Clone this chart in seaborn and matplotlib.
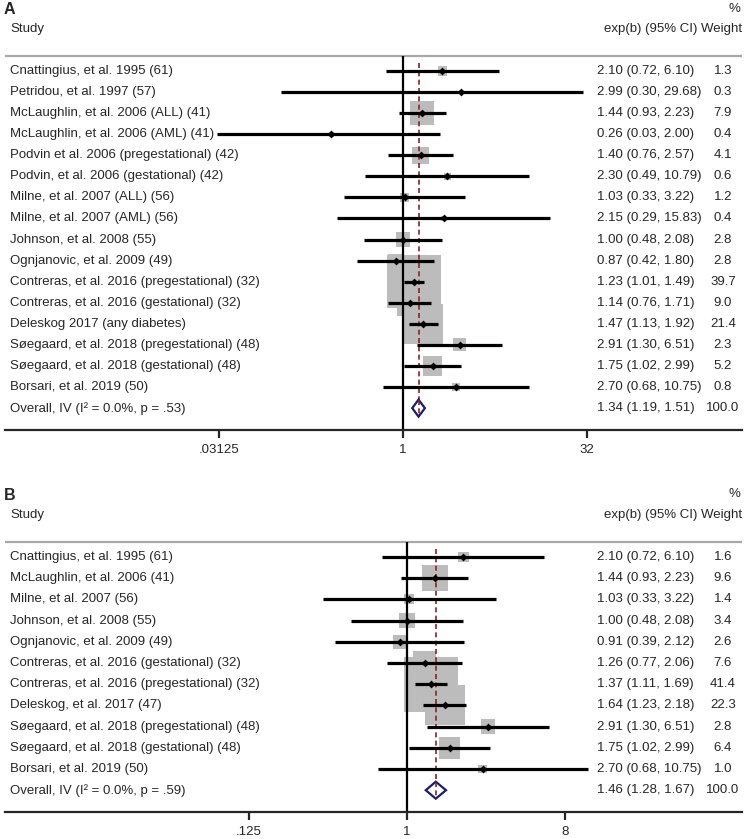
import numpy as np
import pandas as pd
import matplotlib
matplotlib.use("Agg")
import matplotlib.pyplot as plt
import matplotlib.transforms as mtransforms
from matplotlib.patches import Polygon
import seaborn as sns

# Panel A data
estudos_a = ["Cnattingius, et al. 1995 (61)", "Petridou, et al. 1997 (57)",
             "McLaughlin, et al. 2006 (ALL) (41)", "McLaughlin, et al. 2006 (AML) (41)",
             "Podvin et al. 2006 (pregestational) (42)", "Podvin, et al. 2006 (gestational) (42)",
             "Milne, et al. 2007 (ALL) (56)", "Milne, et al. 2007 (AML) (56)",
             "Johnson, et al. 2008 (55)", "Ognjanovic, et al. 2009 (49)",
             "Contreras, et al. 2016 (pregestational) (32)", "Contreras, et al. 2016 (gestational) (32)",
             "Deleskog 2017 (any diabetes)", "Søegaard, et al. 2018 (pregestational) (48)",
             "Søegaard, et al. 2018 (gestational) (48)", "Borsari, et al. 2019 (50)"]
est_a = [2.10, 2.99, 1.44, 0.26, 1.40, 2.30, 1.03, 2.15, 1.00, 0.87, 1.23, 1.14, 1.47, 2.91, 1.75, 2.70]
# limite inferior como impresso na coluna de texto
inf_a = [0.72, 0.30, 0.93, 0.03, 0.76, 0.49, 0.33, 0.29, 0.48, 0.42, 1.01, 0.76, 1.13, 1.30, 1.02, 0.68]
# limite inferior como desenhado (Petridou aparece mais longo na figura)
inf_a_linha = [0.72, 0.10, 0.93, 0.03, 0.76, 0.49, 0.33, 0.29, 0.48, 0.42, 1.01, 0.76, 1.13, 1.30, 1.02, 0.68]
sup_a = [6.10, 29.68, 2.23, 2.00, 2.57, 10.79, 3.22, 15.83, 2.08, 1.80, 1.49, 1.71, 1.92, 6.51, 2.99, 10.75]
peso_a = [1.3, 0.3, 7.9, 0.4, 4.1, 0.6, 1.2, 0.4, 2.8, 2.8, 39.7, 9.0, 21.4, 2.3, 5.2, 0.8]
geral_a = (1.34, 1.19, 1.51, "Overall, IV (I² = 0.0%, p = .53)")
ticks_a = [0.03125, 1, 32]
ticklab_a = [".03125", "1", "32"]

# Panel B data
estudos_b = ["Cnattingius, et al. 1995 (61)", "McLaughlin, et al. 2006 (41)",
             "Milne, et al. 2007 (56)", "Johnson, et al. 2008 (55)",
             "Ognjanovic, et al. 2009 (49)", "Contreras, et al. 2016 (gestational) (32)",
             "Contreras, et al. 2016 (pregestational) (32)", "Deleskog, et al. 2017 (47)",
             "Søegaard, et al. 2018 (pregestational) (48)", "Søegaard, et al. 2018 (gestational) (48)",
             "Borsari, et al. 2019 (50)"]
est_b = [2.10, 1.44, 1.03, 1.00, 0.91, 1.26, 1.37, 1.64, 2.91, 1.75, 2.70]
inf_b = [0.72, 0.93, 0.33, 0.48, 0.39, 0.77, 1.11, 1.23, 1.30, 1.02, 0.68]
sup_b = [6.10, 2.23, 3.22, 2.08, 2.12, 2.06, 1.69, 2.18, 6.51, 2.99, 10.75]
peso_b = [1.6, 9.6, 1.4, 3.4, 2.6, 7.6, 41.4, 22.3, 2.8, 6.4, 1.0]
geral_b = (1.46, 1.28, 1.67, "Overall, IV (I² = 0.0%, p = .59)")
ticks_b = [0.125, 1, 8]
ticklab_b = [".125", "1", "8"]

sns.set_style("white")
plt.rcParams["font.family"] = ["Liberation Sans", "DejaVu Sans"]

W, H = 750, 839
fig = plt.figure(figsize=(W / 100, H / 100), dpi=100)

CINZA = "#bcbcbc"
AZUL = "#1c1c6e"
VERMELHO = "#8b2323"
FS = 9.5


def painel(top_px, bot_px, y0, passo, um_px, px_unid, letra,
           estudos, est, inf, inf_linha, sup, peso, geral, ticks, ticklab):
    left, right = 5, 742
    ax = fig.add_axes([left / W, 1 - bot_px / H, (right - left) / W, (bot_px - top_px) / H])
    ax.set_xlim(-(um_px - left) / px_unid, (right - um_px) / px_unid)
    ax.set_ylim((bot_px - y0) / passo, (top_px - y0) / passo)

    n = len(estudos)
    df = pd.DataFrame({"estudo": estudos, "est": est, "inf": inf, "inf_linha": inf_linha,
                       "sup": sup, "peso": peso})
    df["linha"] = np.arange(n)
    df["x"] = np.log2(df["est"])
    df["lado"] = (8.5 * np.sqrt(df["peso"]) * 0.72) ** 2

    # caixas de peso
    sns.scatterplot(data=df, x="x", y="linha", size="lado", sizes=(df["lado"].min(), df["lado"].max()),
                    marker="s", color=CINZA, linewidth=0, legend=False, ax=ax, zorder=1)

    # linhas de referencia
    ax.vlines(0, -0.71, (bot_px - y0) / passo, color="black", lw=1.6, zorder=2)
    gx = np.log2(geral[0])
    ax.vlines(gx, -0.4, n + 0.4, color=VERMELHO, lw=1.2, linestyles=(0, (3, 2)), zorder=2)

    # intervalos de confianca
    ax.hlines(df["linha"], np.log2(df["inf_linha"]), np.log2(df["sup"]), color="black", lw=2.3, zorder=3)
    sns.scatterplot(data=df, x="x", y="linha", marker="D", color="black", s=16,
                    linewidth=0, legend=False, ax=ax, zorder=4)

    # diamante geral
    h = 8.5 / passo
    dia = Polygon([[np.log2(geral[1]), n], [gx, n - h], [np.log2(geral[2]), n], [gx, n + h]],
                  closed=True, facecolor="white", edgecolor=AZUL, lw=1.6, zorder=5)
    ax.add_patch(dia)
    ax.vlines(gx, n - h, n + h, color=VERMELHO, lw=1.2, linestyles=(0, (3, 2)), zorder=6)

    # linha do cabecalho
    ax.axhline(-0.71, color="#a8a8a8", lw=1.6, zorder=1)

    # eixo
    for s in ["top", "left", "right"]:
        ax.spines[s].set_visible(False)
    ax.spines["bottom"].set_linewidth(1.6)
    ax.set_xticks(np.log2(ticks))
    ax.set_xticklabels(ticklab, fontsize=FS)
    ax.tick_params(axis="x", direction="out", length=6, width=1.6, pad=4, bottom=True)
    ax.set_yticks([])
    ax.set_xlabel("")
    ax.set_ylabel("")

    tr = mtransforms.blended_transform_factory(fig.transFigure, ax.transData)
    for i, row in df.iterrows():
        ax.text(10 / W, i, row["estudo"], transform=tr, fontsize=FS, va="center", ha="left")
        ax.text(597 / W, i, f"{row['est']:.2f} ({row['inf']:.2f}, {row['sup']:.2f})",
                transform=tr, fontsize=FS, va="center", ha="left")
        ax.text(723 / W, i, f"{row['peso']:.1f}", transform=tr, fontsize=FS, va="center", ha="center")
    ax.text(10 / W, n, geral[3], transform=tr, fontsize=FS, va="center", ha="left")
    ax.text(597 / W, n, f"{geral[0]:.2f} ({geral[1]:.2f}, {geral[2]:.2f})",
            transform=tr, fontsize=FS, va="center", ha="left")
    ax.text(723 / W, n, "100.0", transform=tr, fontsize=FS, va="center", ha="center")

    ax.text(10 / W, -2.0, "Study", transform=tr, fontsize=FS, va="center", ha="left")
    ax.text(742 / W, -2.0, "exp(b) (95% CI) Weight", transform=tr, fontsize=FS, va="center", ha="right")
    ax.text(740 / W, -2.95, "%", transform=tr, fontsize=FS, va="center", ha="right")
    ax.text(4 / W, -2.9, letra, transform=tr, fontsize=11.5, fontweight="bold", va="center", ha="left")
    return ax


painel(0, 430, 71, 21.07, 403, 36.8, "A",
       estudos_a, est_a, inf_a, inf_a_linha, sup_a, peso_a, geral_a, ticks_a, ticklab_a)
painel(460, 812, 557, 21.2, 407, 52.7, "B",
       estudos_b, est_b, inf_b, inf_b, sup_b, peso_b, geral_b, ticks_b, ticklab_b)

fig.savefig("out.png", dpi=100)
